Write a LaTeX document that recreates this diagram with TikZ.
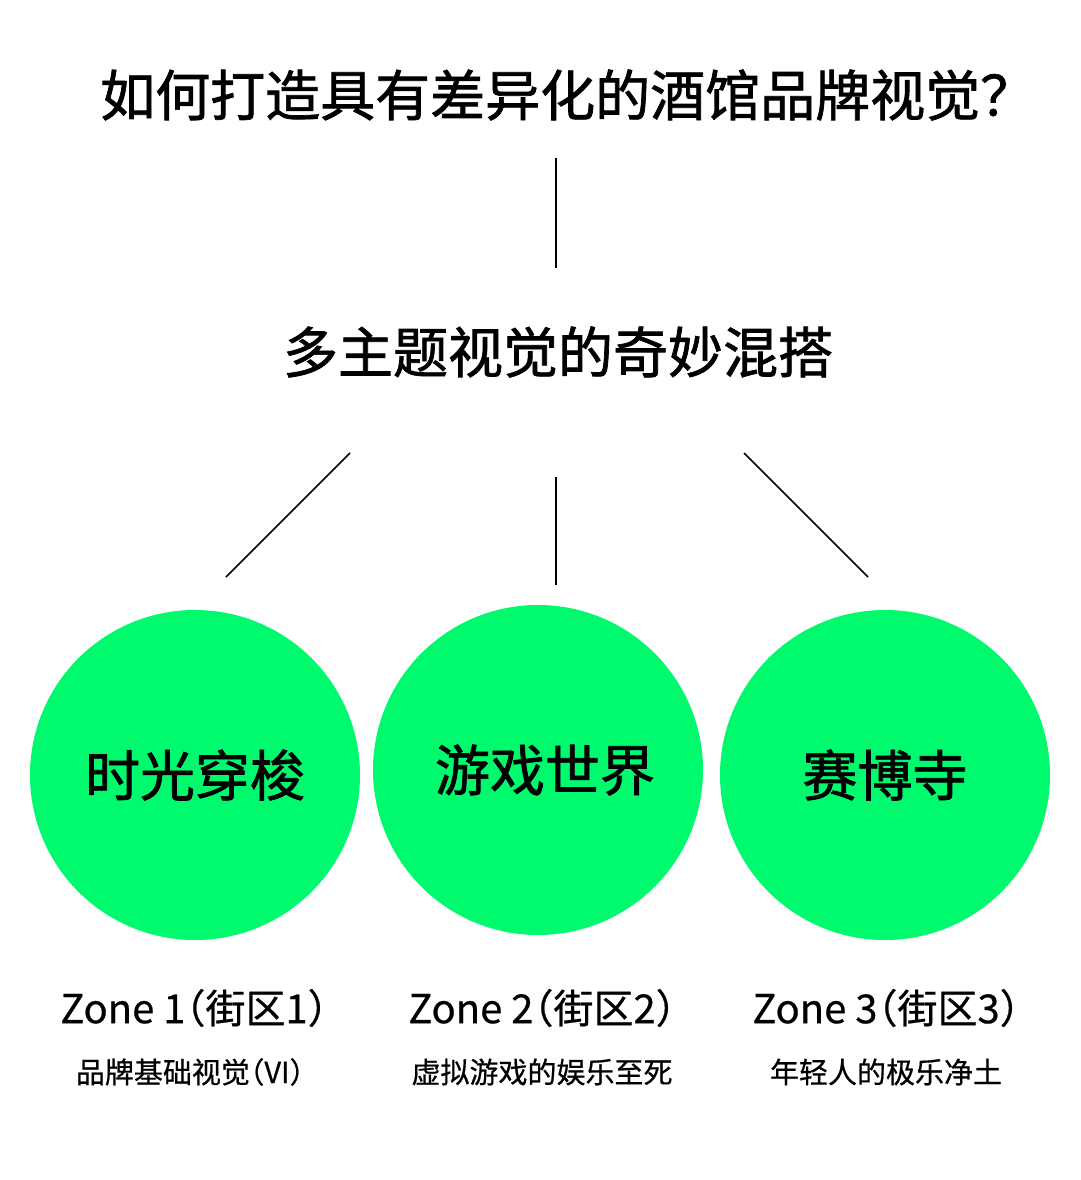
\documentclass[tikz,border=0pt]{standalone}
\usepackage{fontspec}
\setmainfont{Noto Sans CJK SC}
\newfontfamily\cjk{Noto Sans CJK SC}[FakeBold=0.5,RawFeature=+halt]
\newfontfamily\cjkmed{Noto Sans CJK SC}[FakeBold=1.3]
\newfontfamily\cjklight{Noto Sans CJK SC}[FakeBold=0.6,RawFeature=+halt]
\definecolor{zonegreen}{RGB}{0,250,110}
\begin{document}
\begin{tikzpicture}[x=1pt,y=-1pt,
  conn/.style={line width=1.6pt,black},
  bubble/.style={circle,fill=zonegreen,minimum size=330pt,inner sep=0pt,font=\cjkmed\fontsize{55}{60}\selectfont},
  head/.style={font=\cjkmed\fontsize{55}{60}\selectfont,inner sep=0pt},
  zonelab/.style={font=\cjk\fontsize{40}{46}\selectfont,inner sep=0pt},
  desclab/.style={font=\cjklight\fontsize{29}{33}\selectfont,inner sep=0pt}]
\useasboundingbox[fill=white] (0,0) rectangle (1080,1180);
\node[head,anchor=west] (title) at (100,95) {如何打造具有差异化的酒馆品牌视觉？};
\node[head] (sub) at (558,352) {多主题视觉的奇妙混搭};
\node[bubble] (c1) at (195,775) {时光穿梭};
\node[bubble] (c2) at (538,770) {\hspace*{14pt}游戏世界};
\node[bubble] (c3) at (885,775) {赛博寺};
\coordinate (t1) at (556,158);
\coordinate (t2) at (556,268);
\coordinate (l1) at (350,453);
\coordinate (l2) at (226,577);
\coordinate (m1) at (556,477);
\coordinate (m2) at (556,585);
\coordinate (r1) at (744,453);
\coordinate (r2) at (868,577);
\draw[conn] (t1) -- (t2);
\draw[conn] (l1) -- (l2);
\draw[conn] (m1) -- (m2);
\draw[conn] (r1) -- (r2);
\node[zonelab] (z1) at (194,1008) {Zone 1（街区1）};
\node[zonelab] (z2) at (542,1008) {Zone 2（街区2）};
\node[zonelab] (z3) at (886,1008) {Zone 3（街区3）};
\node[desclab] (d1) at (190,1072) {品牌基础视觉（VI）};
\node[desclab] (d2) at (542,1072) {虚拟游戏的娱乐至死};
\node[desclab] (d3) at (886,1072) {年轻人的极乐净土};
\end{tikzpicture}
\end{document}
